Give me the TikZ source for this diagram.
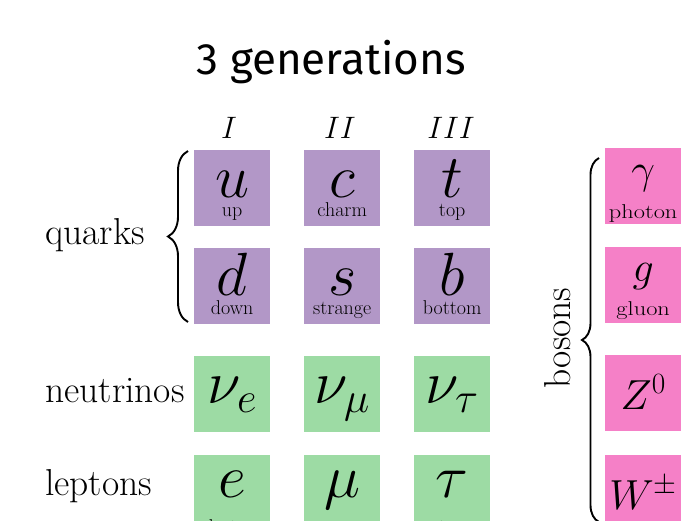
\RequirePackage{fix-cm}
\documentclass[tikz,border=0pt]{standalone}
\usepackage{fontspec}
\newfontfamily\titlefont{Fira Sans}
\usetikzlibrary{decorations.pathreplacing}
\definecolor{qpurple}{RGB}{178,151,199}
\definecolor{lgreen}{RGB}{157,219,164}
\definecolor{bpink}{RGB}{245,128,199}
\begin{document}
\begin{tikzpicture}[x=1pt,y=-1pt,
  box/.style={draw=none,minimum width=76pt,minimum height=76pt,inner sep=0pt,anchor=north west},
  quarkbox/.style={box,fill=qpurple},
  leptonbox/.style={box,fill=lgreen},
  bosonbox/.style={box,fill=bpink},
  bigsym/.style={anchor=base,inner sep=0pt,font=\fontsize{61}{66}\selectfont},
  bossym/.style={anchor=base,inner sep=0pt,font=\fontsize{42}{46}\selectfont},
  sublbl/.style={anchor=base,inner sep=0pt,font=\fontsize{20}{22}\selectfont},
  boslbl/.style={anchor=base,inner sep=0pt,xscale=1.22,font=\fontsize{20}{22}\selectfont},
  rowlbl/.style={anchor=base west,inner sep=0pt,font=\fontsize{37.5}{42}\selectfont},
  genlbl/.style={anchor=base,inner sep=0pt,font=\fontsize{31}{34}\selectfont},
  bracestyle/.style={decorate,line width=1.9pt},
]
\useasboundingbox (0,0) rectangle (685,520);
\clip (0,0) rectangle (685,520);

% title and generations
\node[anchor=base,inner sep=0pt,font=\titlefont\fontsize{44}{48}\selectfont] (title) at (331,74) {3 generations};
\node[genlbl] (gI) at (229,138) {$I$};
\node[genlbl] (gII) at (340,138) {$II$};
\node[genlbl] (gIII) at (451,138) {$III$};

% quarks
\node[quarkbox] (u) at (194,150) {};
\node[quarkbox] (c) at (304,150) {};
\node[quarkbox] (t) at (414,150) {};
\node[quarkbox] (d) at (194,248) {};
\node[quarkbox] (s) at (304,248) {};
\node[quarkbox] (b) at (414,248) {};
\foreach \n/\sym/\lbl in {u/u/up,c/c/charm,t/t/top,d/d/down,s/s/strange,b/b/bottom}{
  \node[bigsym] (\n sym) at ([yshift=-47pt]\n.north) {$\sym$};
  \node[sublbl] (\n lbl) at ([yshift=-66pt]\n.north) {\lbl};
}

% neutrinos
\node[leptonbox] (nue) at (194,356) {};
\node[leptonbox] (numu) at (304,356) {};
\node[leptonbox] (nutau) at (414,356) {};
\node[bigsym] (nuesym) at ([yshift=-47pt]nue.north) {$\nu_e$};
\node[bigsym] (numusym) at ([yshift=-47pt]numu.north) {$\nu_\mu$};
\node[bigsym] (nutausym) at ([yshift=-47pt]nutau.north) {$\nu_\tau$};

% leptons
\node[leptonbox] (e) at (194,455) {};
\node[leptonbox] (mu) at (304,455) {};
\node[leptonbox] (tau) at (414,455) {};
\node[bigsym] (esym) at ([yshift=-42pt]e.north) {$e$};
\node[bigsym] (musym) at ([yshift=-42pt]mu.north) {$\mu$};
\node[bigsym] (tausym) at ([yshift=-42pt]tau.north) {$\tau$};
\node[sublbl] (elbl) at ([yshift=-78pt]e.north) {electron};
\node[sublbl] (mulbl) at ([yshift=-78pt]mu.north) {muon};
\node[sublbl] (taulbl) at ([yshift=-78pt]tau.north) {tau};

% bosons
\node[bosonbox] (gamma) at (605,148) {};
\node[bosonbox] (gluon) at (605,247) {};
\node[bosonbox] (Z) at (605,355) {};
\node[bosonbox] (W) at (605,455) {};
\node[bossym] (gammasym) at ([yshift=-35pt]gamma.north) {$\gamma$};
\node[boslbl] (gammalbl) at ([yshift=-70pt]gamma.north) {photon};
\node[bossym] (gluonsym) at ([yshift=-34pt]gluon.north) {$g$};
\node[boslbl] (gluonlbl) at ([yshift=-68pt]gluon.north) {gluon};
\node[bossym] (Zsym) at ([yshift=-54pt]Z.north) {$Z^0$};
\node[bossym] (Wsym) at ([yshift=-54pt]W.north) {$W^\pm$};

% row labels
\node[rowlbl] (quarks) at (45,244) {quarks};
\node[rowlbl] (neutrinos) at (45,402) {neutrinos};
\node[rowlbl] (leptons) at (45,495) {leptons};
\node[rotate=90,inner sep=0pt,font=\fontsize{37.5}{42}\selectfont] (bosons) at (558,338) {bosons};

% braces
\coordinate (qb1) at (188,322);
\coordinate (qb2) at (188,151);
\draw[bracestyle,decoration={brace,amplitude=20pt}] (qb1) -- (qb2);
\coordinate (bb1) at (599,522);
\coordinate (bb2) at (599,158);
\draw[bracestyle,decoration={brace,amplitude=17pt}] (bb1) -- (bb2);
\end{tikzpicture}
\end{document}
